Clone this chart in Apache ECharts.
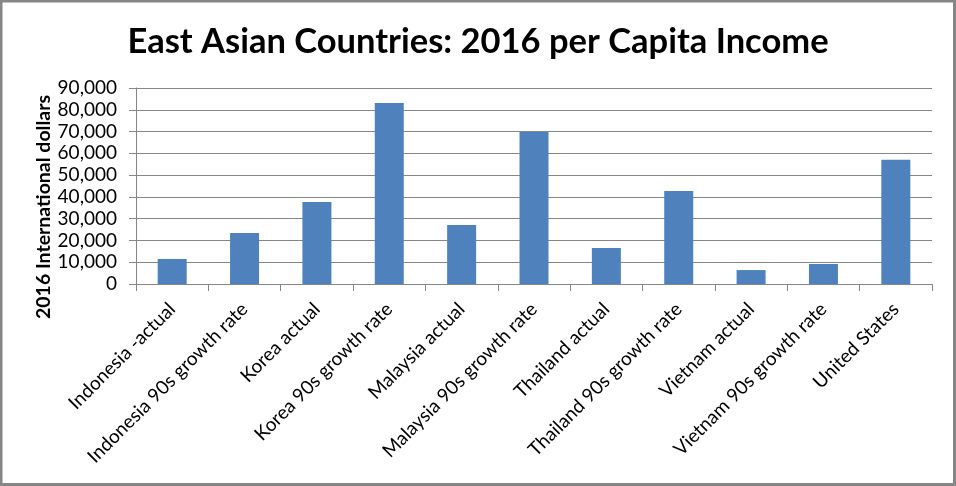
<!DOCTYPE html>
<html>
<head>
<meta charset="utf-8">
<script src="https://cdn.jsdelivr.net/npm/echarts@6/dist/echarts.min.js"></script>
<style>
html,body{margin:0;padding:0;background:#fff;}
#chart{width:956px;height:486px;}
</style>
</head>
<body>
<div id="chart"></div>
<script>
const titleText = "East Asian Countries: 2016 per Capita Income";
const yAxisName = "2016 International dollars";
const categories = [
  "Indonesia -actual",
  "Indonesia 90s growth rate",
  "Korea actual",
  "Korea 90s growth rate",
  "Malaysia actual",
  "Malaysia 90s growth rate",
  "Thailand actual",
  "Thailand 90s growth rate",
  "Vietnam actual",
  "Vietnam 90s growth rate",
  "United States"
];
const incomeValues = [11500, 23400, 37700, 83100, 27100, 69800, 16500, 42700, 6400, 9200, 57000];
const yMin = 0, yMax = 90000, yInterval = 10000;

const chart = echarts.init(document.getElementById('chart'), null, {renderer: 'canvas'});
const fontFam = 'Lato, "Open Sans", sans-serif';
chart.setOption({
  animation: false,
  backgroundColor: '#ffffff',
  title: {
    text: titleText,
    left: 'center',
    top: 19,
    textStyle: {fontFamily: fontFam, fontWeight: 'bold', fontSize: 34.5, color: '#000'}
  },
  graphic: [{
    type: 'rect',
    shape: {x: 1, y: 1, width: 953.5, height: 483.5},
    style: {fill: 'none', stroke: '#868686', lineWidth: 3},
    silent: true
  }],
  grid: {left: 136, right: 24, top: 88, bottom: 202, containLabel: false},
  xAxis: {
    type: 'category',
    data: categories,
    axisLine: {show: true, lineStyle: {color: '#868686', width: 1}},
    axisTick: {show: true, length: 7, lineStyle: {color: '#868686'}},
    axisLabel: {
      rotate: 45, interval: 0, margin: 22,
      fontFamily: fontFam, fontSize: 19, color: '#000'
    },
    splitLine: {show: false}
  },
  yAxis: {
    type: 'value',
    min: yMin, max: yMax, interval: yInterval,
    name: yAxisName,
    nameLocation: 'middle',
    nameGap: 82,
    nameMoveOverlap: false,
    nameTextStyle: {fontFamily: fontFam, fontWeight: 'bold', fontSize: 19.5, color: '#000', padding: [0, 42, 0, 0]},
    axisLine: {show: true, lineStyle: {color: '#868686', width: 1}},
    axisTick: {show: true, length: 7, lineStyle: {color: '#868686'}},
    axisLabel: {
      margin: 19, fontFamily: fontFam, fontSize: 19, color: '#000',
      formatter: v => v.toLocaleString('en-US')
    },
    splitLine: {show: true, lineStyle: {color: '#868686', width: 1}}
  },
  series: [{
    type: 'bar',
    data: incomeValues,
    barWidth: 29,
    itemStyle: {color: '#4F81BD'}
  }]
});
</script>
</body>
</html>
